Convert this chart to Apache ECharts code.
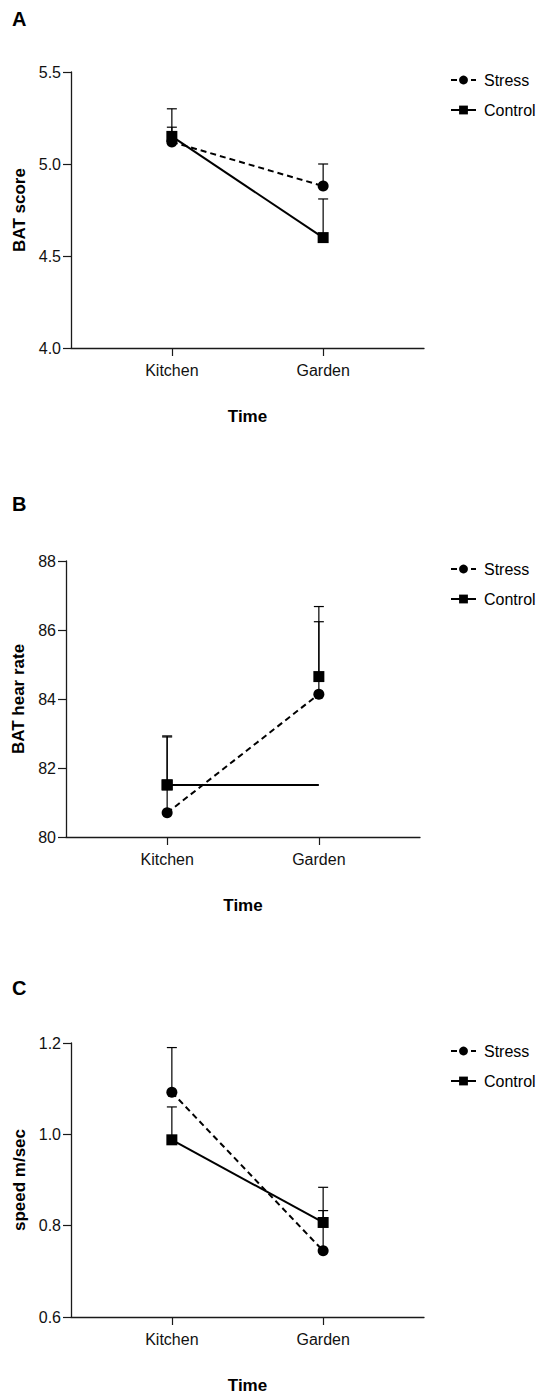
<!DOCTYPE html>
<html>
<head>
<meta charset="utf-8">
<title>BAT outcomes by time and condition</title>
<script src="https://cdn.jsdelivr.net/npm/echarts@6/dist/echarts.min.js"></script>
<style>
  html, body { margin: 0; padding: 0; background: #ffffff; }
  #chart { width: 539px; height: 1395px; }
</style>
</head>
<body>
<div id="chart"></div>
<script>
// Time points
const categories = ['Kitchen', 'Garden'];
const seriesNames = ['Stress', 'Control'];

// Panel A: BAT score (mean, upper error bar end)
const scoreStress = [5.12, 4.88];
const scoreStressUpper = [5.30, 5.00];
const scoreControl = [5.15, 4.60];
const scoreControlUpper = [5.20, 4.81];
const scoreTicks = [4.0, 4.5, 5.0, 5.5];

// Panel B: BAT heart rate
const heartStress = [80.70, 84.14];
const heartStressUpper = [82.93, 86.24];
const heartControl = [81.51, 84.65];
const heartControlUpper = [82.90, 86.68];
// the Control trace in this panel runs flat from Kitchen to Garden
const heartControlTrace = [81.51, 81.51];
const heartTicks = [80, 82, 84, 86, 88];

// Panel C: walking speed
const speedStress = [1.092, 0.745];
const speedStressUpper = [1.19, 0.884];
const speedControl = [0.988, 0.807];
const speedControlUpper = [1.06, 0.833];
const speedTicks = [0.6, 0.8, 1.0, 1.2];

// Horizontal layout: the time axis spans 0..7 with the two time points at 2 and 5
const X_SPAN = [0, 7];
const X_SLOTS = [2, 5];

const FONT = '"Liberation Sans", Arial, Helvetica, sans-serif';
const INK = '#000000';
const AXIS_INK = '#1a1a1a';

const panels = [
  { letter: 'A', letterY: 20, yName: 'BAT score', grid: { left: 71, top: 72, width: 353, height: 276 },
    ticks: scoreTicks, digits: 1, yNameGap: 42,
    stress: scoreStress, stressUp: scoreStressUpper,
    control: scoreControl, controlUp: scoreControlUpper, controlTrace: null },
  { letter: 'B', letterY: 505, yName: 'BAT hear rate', grid: { left: 66, top: 561, width: 354, height: 276 },
    ticks: heartTicks, digits: 0, yNameGap: 37,
    stress: heartStress, stressUp: heartStressUpper,
    control: heartControl, controlUp: heartControlUpper, controlTrace: heartControlTrace },
  { letter: 'C', letterY: 989, yName: 'speed m/sec', grid: { left: 71, top: 1043, width: 353, height: 275 },
    ticks: speedTicks, digits: 1, yNameGap: 42,
    stress: speedStress, stressUp: speedStressUpper,
    control: speedControl, controlUp: speedControlUpper, controlTrace: null }
];

function errorBarRender(params, api) {
  const x = api.value(0);
  const p0 = api.coord([x, api.value(1)]);
  const p1 = api.coord([x, api.value(2)]);
  const cap = 5;
  const style = { stroke: INK, lineWidth: 1.2 };
  return {
    type: 'group',
    children: [
      { type: 'line', shape: { x1: p0[0], y1: p0[1], x2: p1[0], y2: p1[1] }, style: style },
      { type: 'line', shape: { x1: p1[0] - cap, y1: p1[1], x2: p1[0] + cap, y2: p1[1] }, style: style }
    ]
  };
}

const option = {
  backgroundColor: '#ffffff',
  animation: false,
  textStyle: { fontFamily: FONT },
  grid: [], xAxis: [], yAxis: [], series: [], legend: [], graphic: []
};

panels.forEach(function (p, i) {
  option.grid.push(Object.assign({ containLabel: false }, p.grid));

  option.xAxis.push({
    type: 'value', gridIndex: i, min: X_SPAN[0], max: X_SPAN[1],
    name: 'Time', nameLocation: 'middle', nameGap: 60,
    nameTextStyle: { fontFamily: FONT, fontWeight: 'bold', fontSize: 17, color: INK },
    splitLine: { show: false },
    axisLine: { show: true, onZero: false, lineStyle: { color: AXIS_INK, width: 1.3 } },
    axisTick: { show: true, length: 8, customValues: X_SLOTS, lineStyle: { color: AXIS_INK, width: 1.2 } },
    axisLabel: {
      customValues: X_SLOTS, margin: 14, fontFamily: FONT, fontSize: 16, color: '#111',
      formatter: function (v) { return categories[X_SLOTS.indexOf(v)] || ''; }
    }
  });

  const step = p.ticks[1] - p.ticks[0];
  option.yAxis.push({
    type: 'value', gridIndex: i, min: p.ticks[0], max: p.ticks[p.ticks.length - 1], interval: step,
    name: p.yName, nameLocation: 'middle', nameGap: p.yNameGap, nameRotate: 90,
    nameTextStyle: { fontFamily: FONT, fontWeight: 'bold', fontSize: 17, color: INK },
    splitLine: { show: false },
    axisLine: { show: true, onZero: false, lineStyle: { color: AXIS_INK, width: 1.3 } },
    axisTick: { show: true, length: 8, lineStyle: { color: AXIS_INK, width: 1.2 } },
    axisLabel: {
      margin: 10, fontFamily: FONT, fontSize: 16, color: '#111',
      formatter: function (v) { return v.toFixed(p.digits); }
    }
  });

  const pts = function (arr) { return arr.map(function (v, k) { return [X_SLOTS[k], v]; }); };
  const bars = function (mean, up) { return mean.map(function (v, k) { return [X_SLOTS[k], v, up[k]]; }); };

  // error bars sit beneath the markers
  option.series.push({
    type: 'custom', xAxisIndex: i, yAxisIndex: i, renderItem: errorBarRender,
    data: bars(p.stress, p.stressUp), z: 1, silent: true
  });
  option.series.push({
    type: 'custom', xAxisIndex: i, yAxisIndex: i, renderItem: errorBarRender,
    data: bars(p.control, p.controlUp), z: 1, silent: true
  });

  option.series.push({
    name: seriesNames[0], type: 'line', xAxisIndex: i, yAxisIndex: i,
    data: pts(p.stress), symbol: 'circle', symbolSize: 11, z: 3,
    lineStyle: { color: INK, width: 2, type: [6, 4] },
    itemStyle: { color: INK, opacity: 1 }
  });

  if (p.controlTrace) {
    const trace = pts(p.controlTrace).map(function (d, k) {
      return k === 0 ? { value: d } : { value: d, symbol: 'none' };
    });
    option.series.push({
      name: seriesNames[1], type: 'line', xAxisIndex: i, yAxisIndex: i,
      data: trace, symbol: 'rect', symbolSize: 11, z: 3,
      lineStyle: { color: INK, width: 2 }, itemStyle: { color: INK, opacity: 1 }
    });
    option.series.push({
      name: seriesNames[1], type: 'scatter', xAxisIndex: i, yAxisIndex: i,
      data: pts(p.control), symbol: 'rect', symbolSize: 11, z: 4,
      itemStyle: { color: INK, opacity: 1 }
    });
  } else {
    option.series.push({
      name: seriesNames[1], type: 'line', xAxisIndex: i, yAxisIndex: i,
      data: pts(p.control), symbol: 'rect', symbolSize: 11, z: 3,
      lineStyle: { color: INK, width: 2 }, itemStyle: { color: INK, opacity: 1 }
    });
  }

  option.legend.push({
    orient: 'vertical', left: 445, top: p.grid.top - 5,
    data: seriesNames, itemWidth: 25, itemHeight: 11, itemGap: 14,
    selectedMode: false,
    textStyle: { fontFamily: FONT, fontSize: 16, color: INK, padding: [0, 0, 0, 3] }
  });

  option.graphic.push({
    type: 'text', left: 12, top: p.letterY - 11,
    style: { text: p.letter, font: 'bold 20px ' + FONT, fill: INK }
  });
});

const chart = echarts.init(document.getElementById('chart'), null, { renderer: 'svg' });
chart.setOption(option);
</script>
</body>
</html>
